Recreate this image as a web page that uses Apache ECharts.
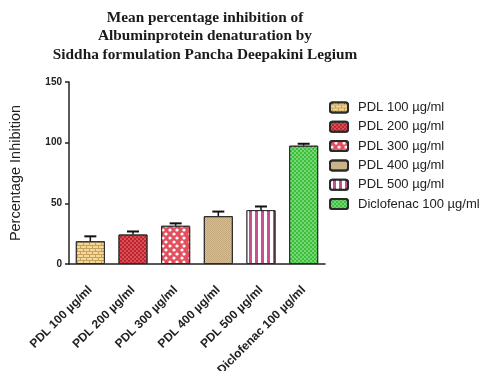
<!DOCTYPE html>
<html>
<head>
<meta charset="utf-8">
<script src="https://cdn.jsdelivr.net/npm/echarts@6/dist/echarts.min.js"></script>
<style>
  html, body { margin: 0; padding: 0; background: #fff; }
  #chart { width: 482px; height: 371px; }
</style>
</head>
<body>
<div id="chart"></div>
<script>
// Treatment groups on the x axis
const categories = ['PDL 100 µg/ml', 'PDL 200 µg/ml', 'PDL 300 µg/ml', 'PDL 400 µg/ml', 'PDL 500 µg/ml', 'Diclofenac 100 µg/ml'];
// Mean percentage inhibition per group
const meanValues = [18.8, 24.3, 31.5, 39.4, 44.4, 97.5];
// Standard deviation per group (upper error bar)
const sdValues = [4.0, 2.5, 2.0, 3.8, 3.0, 1.6];
// Y axis ticks
const yTicks = { min: 0, max: 150, interval: 50 };

// Fill colour and hatch pattern per group
const fills = [
  { color: '#c9a15e', decal: { symbol: 'rect', color: '#f3d898', symbolSize: 1, dashArrayX: [[5, 1], [2, 1, 3, 0]], dashArrayY: [2, 1] } },
  { color: '#c1232c', decal: { symbol: 'circle', color: 'rgba(255,190,190,0.85)', symbolSize: 0.7, dashArrayX: [[2, 2], [0, 2, 2, 0]], dashArrayY: [2, 0] } },
  { color: '#e0505e', decal: { symbol: 'circle', color: '#ffffff', symbolSize: 0.8, dashArrayX: [[4, 3], [0, 3.5, 4, 0]], dashArrayY: [4, 0] } },
  { color: '#c2a87a', decal: { symbol: 'circle', color: 'rgba(240,226,190,0.9)', symbolSize: 0.8, dashArrayX: [[1, 1], [0, 1, 1, 0]], dashArrayY: [1, 0] } },
  { color: '#c7508f', decal: { symbol: 'rect', color: '#ffffff', symbolSize: 1, dashArrayX: [3, 3], dashArrayY: [10, 0] } },
  { color: '#3cbf3c', decal: { symbol: 'circle', color: '#c0f7c0', symbolSize: 0.8, dashArrayX: [[2, 2], [0, 2, 2, 0]], dashArrayY: [2, 0] } }
];

const barSeries = categories.map((name, i) => ({
  name: name,
  type: 'bar',
  stack: 'groups',
  barCategoryGap: '32%',
  data: categories.map((_, j) => (j === i ? meanValues[i] : '-')),
  itemStyle: {
    color: fills[i].color,
    decal: fills[i].decal,
    borderColor: '#2a2a2a',
    borderWidth: 1
  }
}));

// Upper error bar with a cap, positioned through the axes
const errorSeries = {
  type: 'custom',
  name: 'sd',
  z: 5,
  data: meanValues.map((m, i) => [i, m, sdValues[i]]),
  renderItem: function (params, api) {
    const x = api.value(0);
    const m = api.value(1);
    const s = api.value(2);
    const base = api.coord([x, m]);
    const top = api.coord([x, m + s]);
    const half = 6;
    return {
      type: 'group',
      children: [
        { type: 'line', shape: { x1: base[0], y1: base[1], x2: top[0], y2: top[1] }, style: { stroke: '#111', lineWidth: 1.5 } },
        { type: 'line', shape: { x1: top[0] - half, y1: top[1], x2: top[0] + half, y2: top[1] }, style: { stroke: '#111', lineWidth: 2 } }
      ]
    };
  }
};

const chart = echarts.init(document.getElementById('chart'));
chart.setOption({
  animation: false,
  backgroundColor: '#ffffff',
  title: {
    text: 'Mean percentage inhibition of\nAlbuminprotein denaturation by\nSiddha formulation Pancha Deepakini Legium',
    left: 205,
    top: 8.5,
    padding: 0,
    textAlign: 'center',
    textStyle: {
      fontFamily: 'Liberation Serif',
      fontWeight: 'bold',
      fontSize: 15.3,
      lineHeight: 18.5,
      color: '#1a1a1a'
    }
  },
  legend: {
    data: categories,
    orient: 'vertical',
    left: 329,
    top: 101,
    padding: 0,
    itemWidth: 18,
    itemHeight: 10,
    itemGap: 6.3,
    textStyle: {
      fontFamily: 'Liberation Sans',
      fontSize: 13,
      lineHeight: 13,
      color: '#222',
      padding: [0, 0, 0, 5]
    }
  },
  grid: {
    left: 69,
    right: 157,
    top: 82,
    bottom: 107,
    containLabel: false,
    outerBoundsMode: 'none'
  },
  xAxis: {
    type: 'category',
    data: categories,
    axisLine: { lineStyle: { color: '#222', width: 1.5 } },
    axisTick: { show: false },
    axisLabel: {
      rotate: 45,
      interval: 0,
      margin: 24,
      fontFamily: 'Liberation Sans',
      fontSize: 12,
      fontWeight: 'bold',
      color: '#222'
    }
  },
  yAxis: {
    type: 'value',
    min: yTicks.min,
    max: yTicks.max,
    interval: yTicks.interval,
    name: 'Percentage Inhibition',
    nameLocation: 'middle',
    nameGap: 46,
    nameTextStyle: {
      fontFamily: 'Liberation Sans',
      fontSize: 14.5,
      color: '#222'
    },
    axisLine: { show: true, lineStyle: { color: '#222', width: 1.5 } },
    axisTick: { show: true, length: 4, lineStyle: { color: '#222', width: 1.5 } },
    axisLabel: {
      margin: 7,
      fontFamily: 'Liberation Sans',
      fontSize: 10,
      fontWeight: 'bold',
      color: '#222'
    },
    splitLine: { show: false }
  },
  series: barSeries.concat([errorSeries])
});
</script>
</body>
</html>
